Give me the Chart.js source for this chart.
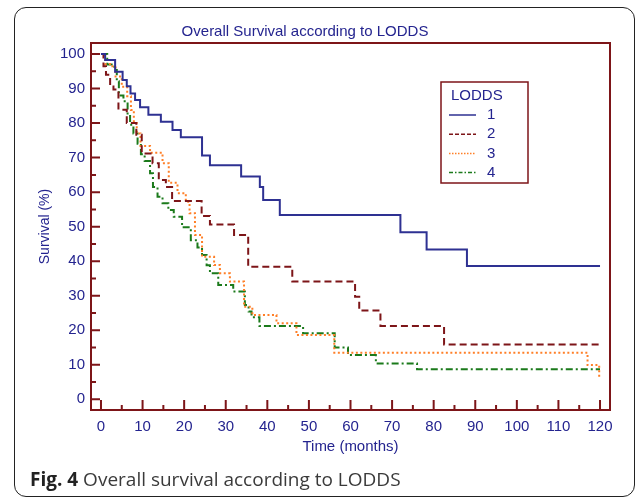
<!DOCTYPE html>
<html>
<head>
<meta charset="utf-8">
<script src="https://cdn.jsdelivr.net/npm/chart.js@4.4.0/dist/chart.umd.min.js"></script>
<style>
  html, body { margin: 0; padding: 0; background: #fff; }
  #wrap { position: relative; width: 636px; height: 497px; overflow: hidden; }
  #frame { position: absolute; left: 14px; top: 7px; width: 621px; height: 490px; border: 1.5px solid #222; border-radius: 12px; box-sizing: border-box; }
  #chart { position: absolute; left: 0; top: 0; }
  #caption { position: absolute; left: 30px; top: 466px; font-family: 'Open Sans', sans-serif; font-size: 19px; color: #3a3a3a; white-space: nowrap; }
  #caption b { color: #222; }
</style>
</head>
<body>
<div id="wrap">
  <div id="frame"></div>
  <canvas id="chart" width="636" height="497"></canvas>
  <div id="caption"><b>Fig. 4</b> Overall survival according to LODDS</div>
</div>
<script>
var groups = ['1', '2', '3', '4'];

// Kaplan-Meier steps: time (months) and survival (%)
var months1 = [0, 1, 3.4, 5.2, 6.2, 7.1, 8.2, 9.4, 11.4, 14.4, 17.2, 19.2, 24.3, 26.2, 33.7, 38.2, 39, 43, 72, 78.3, 88, 120];
var surv1 = [100, 98.3, 94.9, 92.5, 90.7, 88.6, 86.7, 84.6, 82.4, 80.4, 78, 75.9, 70.6, 67.8, 64.5, 61.5, 57.7, 53.4, 48.4, 43.4, 38.6, 38.6];

var months2 = [0, 0.6, 1.2, 2.2, 3, 4.2, 6.2, 8.5, 9.8, 12.4, 13.9, 15.6, 17.1, 24.2, 26.2, 32, 35.4, 46, 61.1, 62.1, 67.2, 82.5, 120];
var surv2 = [100, 96.5, 94, 90.6, 89.7, 83.9, 80, 76.6, 71.2, 68.4, 63.5, 61.5, 57.4, 53.1, 50.6, 47.6, 38.4, 34.1, 29.7, 25.7, 21.2, 15.9, 15.9];

var months3 = [0, 1, 2.5, 3.5, 5, 6.3, 7.2, 7.9, 8.6, 9.5, 11.8, 14.8, 16.3, 18.4, 20.4, 21.3, 22.6, 24.3, 27.2, 28.6, 31, 34.4, 36.4, 42.2, 47, 56.1, 117, 119.8, 120];
var surv3 = [100, 97.1, 96.5, 93.5, 90.5, 87.8, 83.8, 80, 77, 73.4, 71.4, 68.4, 62.7, 59.7, 57.2, 53.9, 47.6, 41.3, 38.9, 36.5, 34.1, 26.8, 24.4, 22, 18.6, 13.5, 9.9, 6.5, 6.5];

var months4 = [0, 1.5, 3.2, 3.8, 4.3, 5.4, 6.4, 7, 7.8, 8.8, 9.6, 10.5, 11.8, 12.5, 13.6, 14.8, 16.2, 17.5, 19.5, 21.6, 23.2, 24.3, 25.4, 26.2, 28.2, 31.8, 34.6, 35.5, 36.2, 38.1, 48.6, 56.2, 59.4, 66.1, 76, 120];
var surv4 = [100, 97, 95.4, 92.1, 88, 86.3, 82.4, 79.5, 77, 74, 71, 69, 65.5, 61.5, 58.7, 56.8, 54.8, 52.9, 49.8, 46.1, 44, 41.8, 38.8, 36.5, 33.1, 31.2, 27.3, 25.4, 23.8, 21.2, 19.1, 15, 12.8, 10.4, 8.7, 8.7];

var xTicks = [0, 10, 20, 30, 40, 50, 60, 70, 80, 90, 100, 110, 120];
var yTicks = [0, 10, 20, 30, 40, 50, 60, 70, 80, 90, 100];

var navy = '#24248f';
var maroon = '#7d1518';
var colors = ['#2e3192', maroon, '#ff7f27', '#1b7a1b'];
var dashes = [[], [7, 4], [2, 2.5], [7, 3, 2, 3]];
var legendDashes = [[], [4, 2], [1.5, 1.5], [4, 2, 1.5, 2]];

function pts(xs, ys) {
    return xs.map(function (x, i) { return { x: x, y: ys[i] }; });
}

var series = [pts(months1, surv1), pts(months2, surv2), pts(months3, surv3), pts(months4, surv4)];

// frame, inward ticks and boxed legend
var decor = {
    id: 'decor',
    afterDatasetsDraw: function (chart) {
        var c = chart.ctx, a = chart.chartArea;
        var xs = chart.scales.x, ys = chart.scales.y;
        c.save();
        c.strokeStyle = maroon;
        c.lineWidth = 2;
        c.strokeRect(a.left, a.top, a.right - a.left, a.bottom - a.top);
        c.beginPath();
        for (var v = 0; v <= 120; v += 5) {
            var px = xs.getPixelForValue(v);
            c.moveTo(px, a.bottom);
            c.lineTo(px, a.bottom - (v % 10 === 0 ? 10 : 5));
        }
        for (var w = 0; w <= 100; w += 5) {
            var py = ys.getPixelForValue(w);
            c.moveTo(a.left, py);
            c.lineTo(a.left + (w % 10 === 0 ? 9 : 5), py);
        }
        c.stroke();

        // legend
        var lx = 441, ly = 82;
        c.lineWidth = 1.5;
        c.strokeStyle = maroon;
        c.strokeRect(lx, ly, 87, 101);
        c.fillStyle = navy;
        c.font = '15px Arial, "Liberation Sans"';
        c.textBaseline = 'middle';
        c.fillText('LODDS', 451, 96);
        chart.data.datasets.forEach(function (ds, i) {
            var y = 115 + i * 19.2;
            c.beginPath();
            c.strokeStyle = ds.borderColor;
            c.lineWidth = 1.5;
            c.setLineDash(legendDashes[i]);
            c.moveTo(449, y);
            c.lineTo(476, y);
            c.stroke();
            c.setLineDash([]);
            c.fillText(ds.label, 487, y);
        });
        c.restore();
    }
};

var ctx = document.getElementById('chart').getContext('2d');
var kmChart = new Chart(ctx, {
    type: 'line',
    data: {
        datasets: series.map(function (d, i) {
            return {
                label: groups[i],
                data: d,
                borderColor: colors[i],
                borderWidth: 2,
                borderDash: dashes[i],
                stepped: 'before',
                pointRadius: 0,
                fill: false
            };
        })
    },
    options: {
        responsive: false,
        animation: false,
        devicePixelRatio: 1,
        layout: {
            padding: { left: 0, top: 0, right: 26, bottom: 0 }
        },
        plugins: {
            legend: { display: false },
            tooltip: { enabled: false },
            title: {
                display: true,
                text: 'Overall Survival according to LODDS',
                color: navy,
                font: { size: 15, family: 'Arial, "Liberation Sans"', weight: 'normal' },
                padding: { top: 23, bottom: 2 }
            }
        },
        scales: {
            x: {
                type: 'linear',
                min: -2.4,
                max: 122.4,
                grid: { display: false, drawTicks: false },
                border: { display: false },
                afterBuildTicks: function (s) { s.ticks = xTicks.map(function (v) { return { value: v }; }); },
                afterFit: function (s) { s.height = 87; },
                ticks: { color: navy, padding: 8, maxRotation: 0, font: { size: 15, family: 'Arial, "Liberation Sans"' } },
                title: {
                    display: true,
                    text: 'Time (months)',
                    color: navy,
                    font: { size: 15, family: 'Arial, "Liberation Sans"' },
                    padding: { top: 0, bottom: 41 }
                }
            },
            y: {
                type: 'linear',
                min: -3.1,
                max: 103.2,
                grid: { display: false, drawTicks: false },
                border: { display: false },
                afterBuildTicks: function (s) { s.ticks = yTicks.map(function (v) { return { value: v }; }); },
                afterFit: function (s) { s.width = 91; },
                ticks: { color: navy, padding: 6, font: { size: 15, family: 'Arial, "Liberation Sans"' } },
                title: {
                    display: true,
                    text: 'Survival (%)',
                    color: navy,
                    font: { size: 14, family: 'Arial, "Liberation Sans"' },
                    padding: { top: 37, bottom: 0 }
                }
            }
        }
    },
    plugins: [decor]
});
</script>
</body>
</html>
